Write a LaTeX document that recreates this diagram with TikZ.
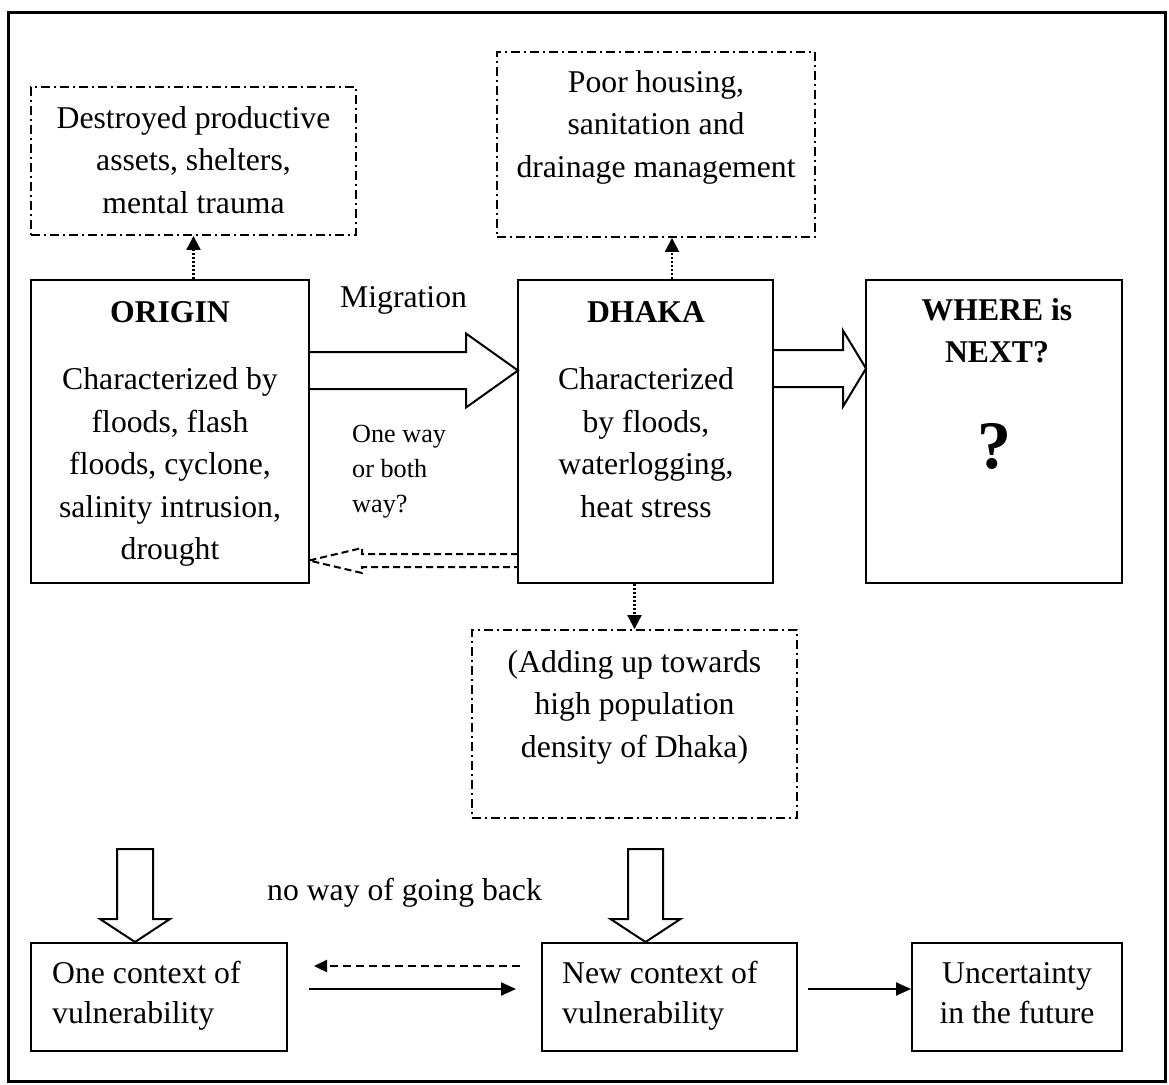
\documentclass[tikz,border=0pt]{standalone}
\usepackage{fontspec}
\setmainfont{Liberation Serif}
\usetikzlibrary{arrows.meta,calc,fit}
\newcommand\hblock[7][]{\draw[blk,#1] (#2,{#5-#6}) -- (#4,{#5-#6}) -- (#4,{#5-#7}) -- (#3,#5) -- (#4,{#5+#7}) -- (#4,{#5+#6}) -- (#2,{#5+#6});}
\newcommand\vblock[6]{\draw[blk] ({#1-#4},#2) -- ({#1+#4},#2) -- ({#1+#4},#3) -- ({#1+#5},#3) -- (#1,#6) -- ({#1-#5},#3) -- ({#1-#4},#3) -- cycle;}
\begin{document}
\begin{tikzpicture}[x=1pt,y=-1pt,
  box/.style={draw, line width=2pt, inner sep=0pt},
  dbox/.style={draw, line width=1.9pt, dash pattern=on 9pt off 4pt on 2pt off 4pt, inner sep=0pt},
  txt/.style={font=\fontsize{31.7}{42.5}\selectfont, align=center, inner sep=0pt},
  btxt/.style={font=\fontsize{31.7}{40}\selectfont, inner sep=0pt},
  blk/.style={line width=2pt, line join=miter},
  dotarr/.style={line width=2.2pt, dash pattern=on 2pt off 2pt, -{Triangle[length=14pt,width=14pt]}},
  solarr/.style={line width=2.2pt, -{Triangle[length=15pt,width=13pt]}},
  dasharr/.style={line width=2.2pt, dash pattern=on 8pt off 5pt, -{Triangle[length=13pt,width=12pt]}}]
\useasboundingbox (0,0) rectangle (1169,1084);
\node[draw, line width=3pt, inner sep=0pt, fit={(8,12)(1165,1081)}] (frame) {};
% boxes
\node[dbox, fit={(31,87)(356,235)}] (dbox1) {};
\node[dbox, fit={(497,52)(815,237)}] (dbox2) {};
\node[box, fit={(31,280)(309,583)}] (origin) {};
\node[box, fit={(518,280)(773,583)}] (dhaka) {};
\node[box, fit={(866,280)(1122,583)}] (where) {};
\node[dbox, fit={(472,630)(797,818)}] (dbox3) {};
\node[box, fit={(31,943)(287,1051)}] (ctx1) {};
\node[box, fit={(542,943)(797,1051)}] (ctx2) {};
\node[box, fit={(912,943)(1122,1051)}] (unc) {};
% texts
\node[txt] (t1) at (193.5,162) {Destroyed productive\strut\\assets, shelters,\strut\\mental trauma\strut};
\node[txt] (t2) at (656,126) {Poor housing,\strut\\sanitation and\strut\\drainage management\strut};
\node[txt, anchor=base, font=\fontsize{31.7}{42.5}\selectfont\bfseries] (t3) at (170,322) {ORIGIN};
\node[txt] (t4) at (170,466) {Characterized by\strut\\floods, flash\strut\\floods, cyclone,\strut\\salinity intrusion,\strut\\drought\strut};
\node[txt, anchor=base, font=\fontsize{31.7}{42.5}\selectfont\bfseries] (t5) at (646,322) {DHAKA};
\node[txt] (t6) at (646,445) {Characterized\strut\\by floods,\strut\\waterlogging,\strut\\heat stress\strut};
\node[txt, font=\fontsize{31.7}{42}\selectfont\bfseries] (t7) at (997,333.5) {WHERE is\strut\\NEXT?\strut};
\node[inner sep=0pt, anchor=base, font=\fontsize{68}{72}\selectfont\bfseries] (t8) at (994,468) {?};
\node[inner sep=0pt, anchor=base west, font=\fontsize{31.7}{42.5}\selectfont] (t9) at (340,307) {Migration};
\node[inner sep=0pt, anchor=west, align=left, font=\fontsize{26.2}{35}\selectfont] (t10) at (352,470) {One way\strut\\or both\strut\\way?\strut};
\node[txt] (t11) at (634.5,706) {(Adding up towards\strut\\high population\strut\\density of Dhaka)\strut};
\node[inner sep=0pt, anchor=base west, font=\fontsize{31.7}{42.5}\selectfont] (t12) at (267,900) {no way of going back};
\node[btxt, anchor=west, align=left] (t13) at (52,995) {One context of\strut\\vulnerability\strut};
\node[btxt, anchor=west, align=left] (t14) at (562,995) {New context of\strut\\vulnerability\strut};
\node[btxt, align=center] (t15) at (1017,995) {Uncertainty\strut\\in the future\strut};
% block arrows
\hblock{309}{518}{466}{370.5}{18.5}{37}
\hblock{773}{866}{843}{368.5}{18.5}{38}
\hblock[dash pattern=on 7pt off 4pt]{518}{309}{362}{560.5}{6.5}{12.5}
\vblock{135}{849}{919}{18}{35}{942}
\vblock{645.5}{849}{919}{17.5}{35}{942}
% dotted arrows
\coordinate (x672) at (672,0);
\draw[dotarr] (origin.north -| dbox1.south) -- (dbox1.south);
\draw[dotarr] (dhaka.north -| x672) -- (dbox2.south -| x672);
\draw[dotarr] (dbox3.north |- dhaka.south) -- (dbox3.north);
% bottom arrows
\coordinate (y966) at (0,966);
\coordinate (y989) at (0,989);
\draw[dasharr, shorten <=21pt, shorten >=26pt] (ctx2.west |- y966) -- (ctx1.east |- y966);
\draw[solarr, shorten <=21pt, shorten >=25pt] (ctx1.east |- y989) -- (ctx2.west |- y989);
\draw[solarr, shorten <=10pt] (ctx2.east |- y989) -- (unc.west |- y989);
\end{tikzpicture}
\end{document}
